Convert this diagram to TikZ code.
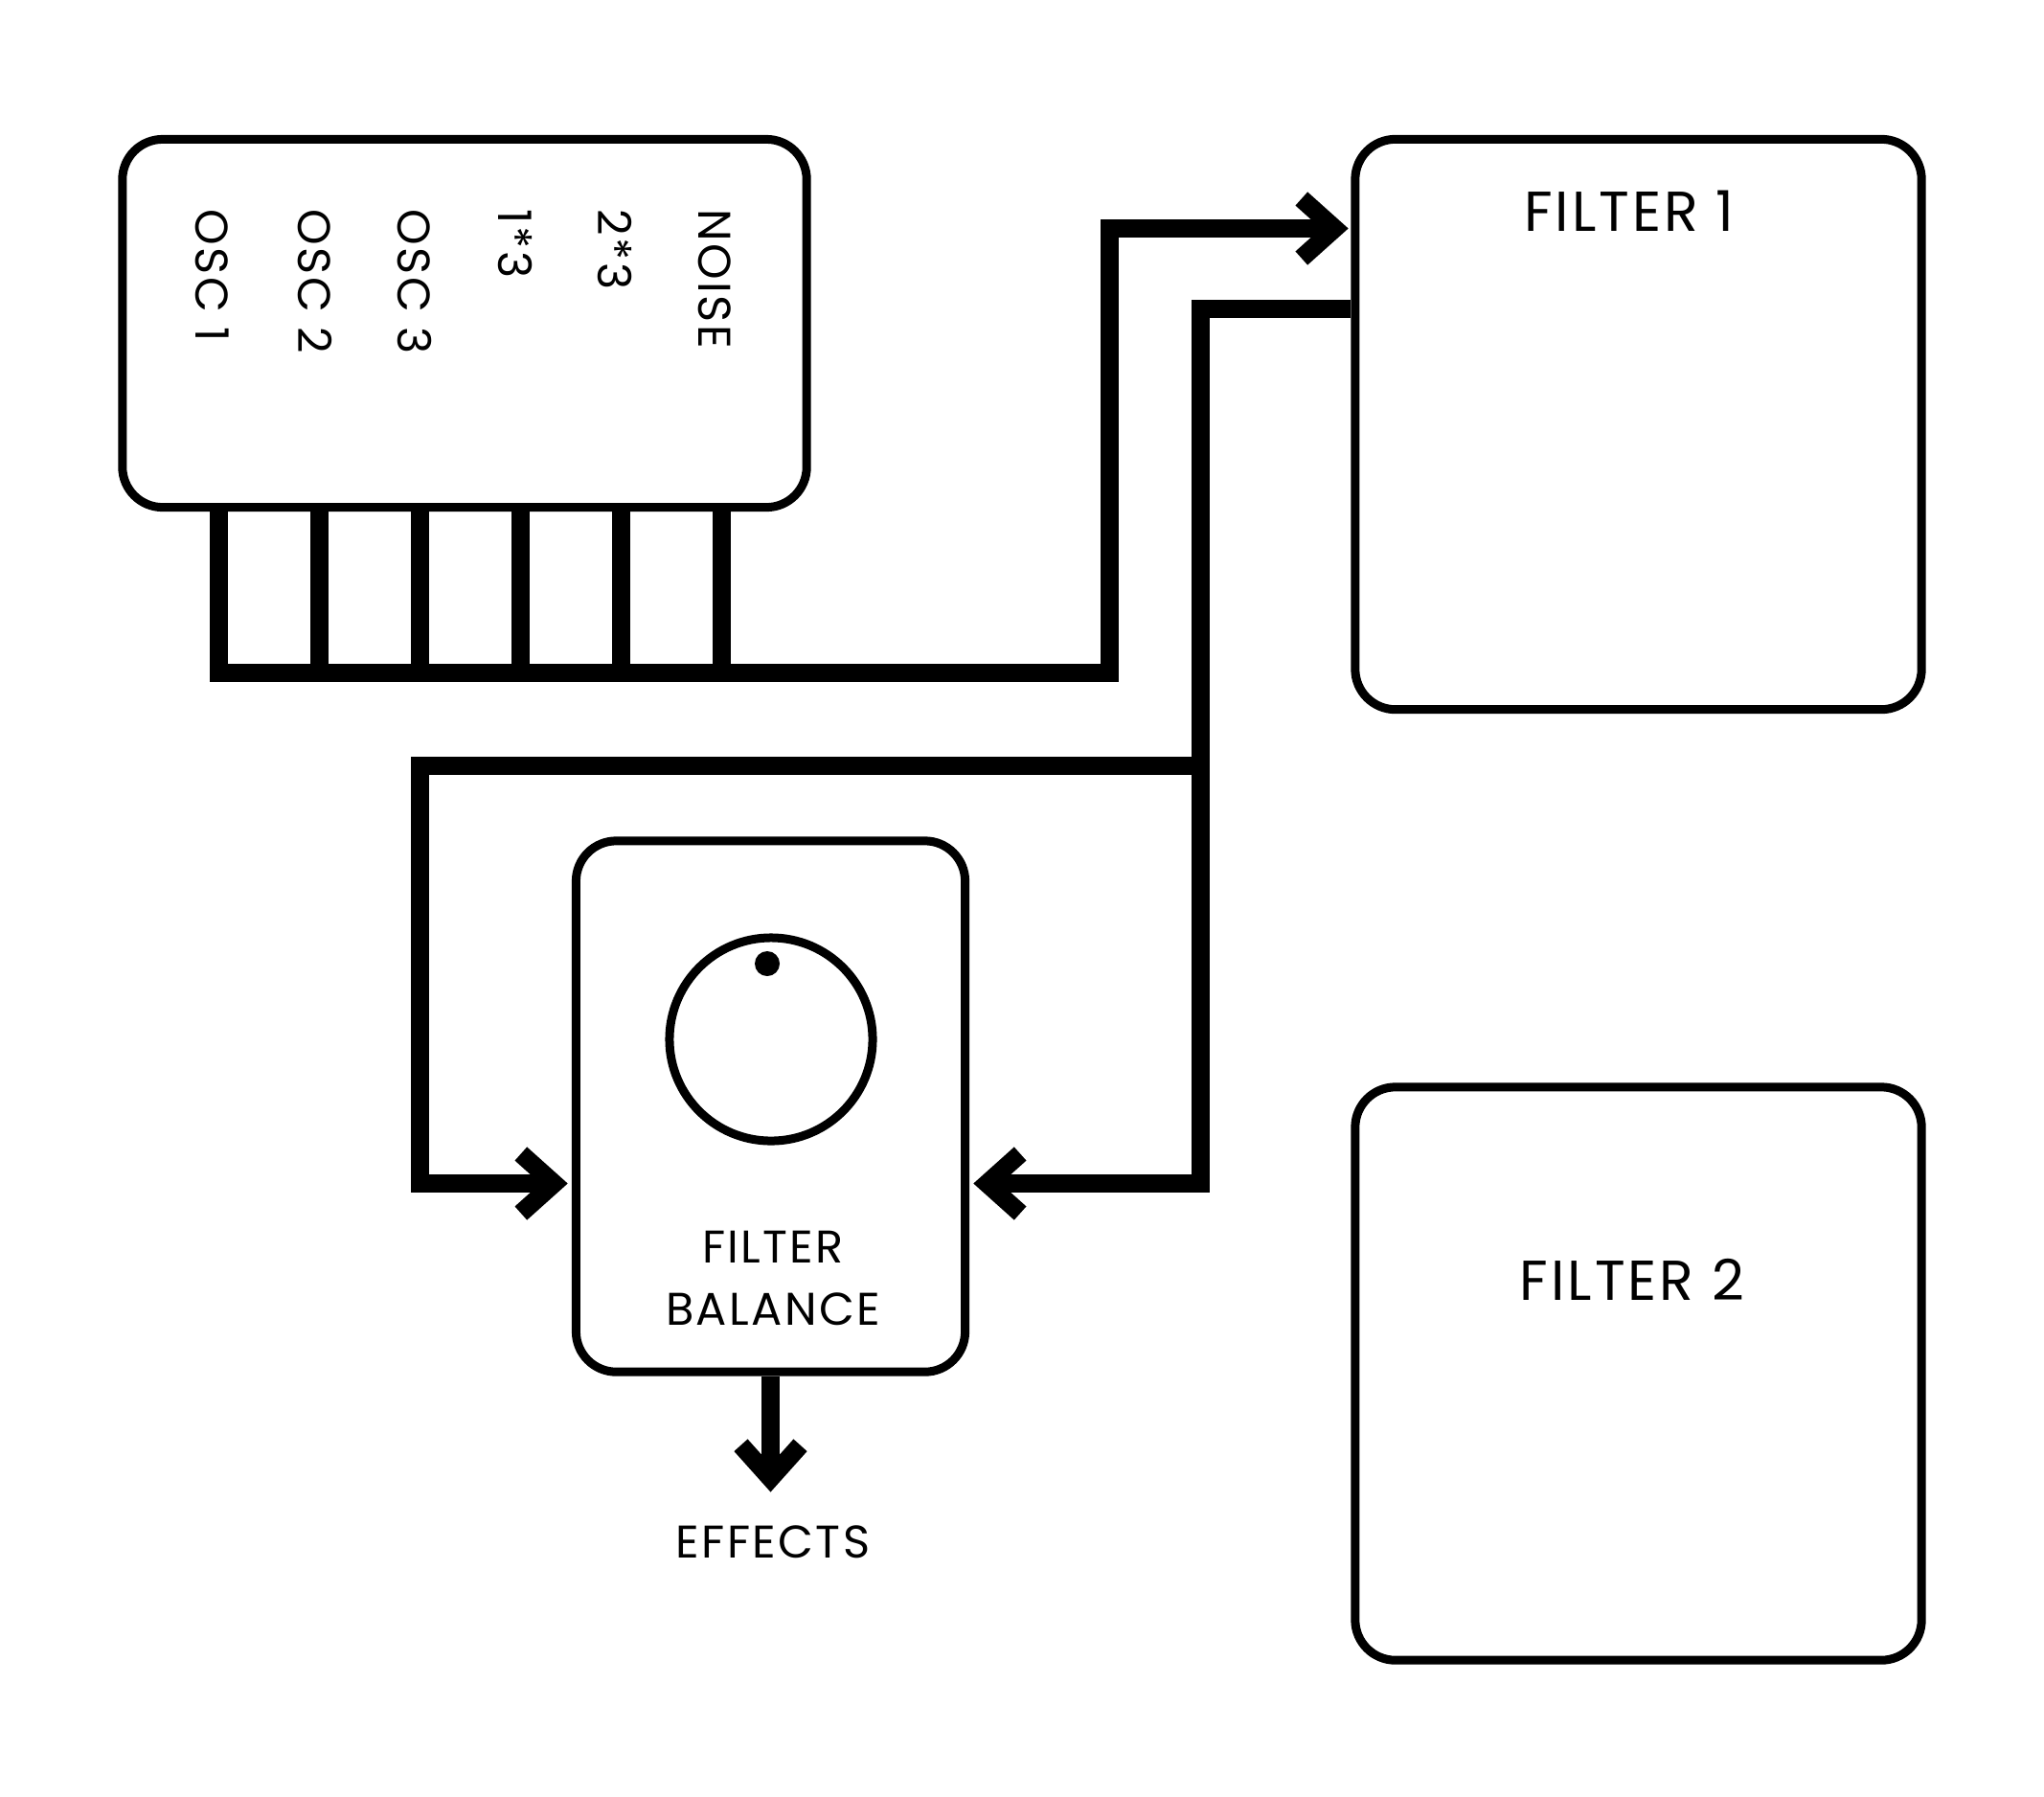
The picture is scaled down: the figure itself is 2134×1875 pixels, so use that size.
\documentclass[tikz,border=0pt]{standalone}
\usepackage{fontspec}
\setmainfont{Poppins}[LetterSpace=5]
\begin{document}
\begin{tikzpicture}[x=0.01cm,y=-0.01cm,
  box/.style={draw=black, line width=0.09cm, rounded corners=0.42cm, inner sep=0pt},
  wire/.style={line width=0.19cm, line join=miter, line cap=butt},
  head/.style={line width=0.19cm, line join=miter, line cap=butt},
  biglbl/.style={font=\fontsize{16.7}{20}\selectfont, text=black, inner sep=0pt},
  lbl/.style={font=\fontsize{13.6}{16}\selectfont, text=black, inner sep=0pt},
  osc/.style={font=\fontsize{13.6}{16}\selectfont, text=black, inner sep=0pt, rotate=-90, anchor=west}]
\useasboundingbox[fill=white] (0,0) rectangle (2134,1875);

% boxes
\node[box, minimum width=7.14cm, minimum height=3.84cm] (src) at (485,337.5) {};
\node[box, minimum width=5.91cm, minimum height=5.95cm] (f1) at (1710.5,443) {};
\node[box, minimum width=5.91cm, minimum height=5.98cm] (f2) at (1710.5,1434) {};
\node[box, minimum width=4.06cm, minimum height=5.54cm] (bal) at (804.5,1155) {};
\node[draw=black, line width=0.09cm, circle, minimum size=2.12cm, inner sep=0pt] (knob) at (805,1085) {};
\node[fill=black, circle, minimum size=0.26cm, inner sep=0pt] (dot) at (801,1006) {};

% labels
\node[osc] (l1) at (222,218) {OSC 1};
\node[osc] (l2) at (328.5,218) {OSC 2};
\node[osc] (l3) at (433,218) {OSC 3};
\node[osc] (l4) at (537.5,218) {1*3};
\node[osc] (l5) at (642,218) {2*3};
\node[osc] (l6) at (746,218) {NOISE};
\node[biglbl] (t1) at (1701,220) {FILTER 1};
\node[biglbl] (t2) at (1704,1336) {FILTER 2};
\node[lbl] (tb1) at (807,1302) {FILTER};
\node[lbl] (tb2) at (807,1367) {BALANCE};
\node[lbl] (tfx) at (807,1610) {EFFECTS};

% coordinates
\coordinate (b1) at (228.5,702.5);
\coordinate (b2) at (333.5,702.5);
\coordinate (b3) at (438.5,702.5);
\coordinate (b4) at (543.5,702.5);
\coordinate (b5) at (648.5,702.5);
\coordinate (b6) at (753.5,702.5);
\coordinate (r1) at (1158.5,702.5);
\coordinate (e1) at ([xshift=-0.035cm]f1.west |- 0,238.5);
\coordinate (s2) at (f1.west |- 0,322.5);
\coordinate (c2) at (1253.5,1235.5);
\coordinate (j2) at (1253.5,799.5);
\coordinate (c3) at (438.5,1235.5);
\coordinate (e2) at ([xshift=0.05cm]bal.east |- c2);
\coordinate (e3) at ([xshift=-0.05cm]bal.west |- c3);
\coordinate (e4) at ([yshift=-1.2cm]bal.south);

% wires
\draw[wire] (src.south -| b1) -- (b1) -- (r1) |- ([xshift=-0.134cm]e1);
\foreach \i in {2,...,6} \draw[wire] (src.south -| b\i) -- ([yshift=-0.05cm]b\i);
\draw[wire] (s2) -| (c2) -- ([xshift=0.134cm]e2);
\draw[wire] (j2) -- (j2 -| c3) |- ([xshift=-0.134cm]e3);
\draw[wire] (bal.south) -- ([yshift=0.134cm]e4);

% heads
\draw[head] ([shift={(-0.48cm,0.31cm)}]e1) -- ([xshift=-0.134cm]e1) -- ([shift={(-0.48cm,-0.31cm)}]e1);
\draw[head] ([shift={(0.48cm,0.31cm)}]e2) -- ([xshift=0.134cm]e2) -- ([shift={(0.48cm,-0.31cm)}]e2);
\draw[head] ([shift={(-0.48cm,0.31cm)}]e3) -- ([xshift=-0.134cm]e3) -- ([shift={(-0.48cm,-0.31cm)}]e3);
\draw[head] ([shift={(-0.31cm,0.48cm)}]e4) -- ([yshift=0.134cm]e4) -- ([shift={(0.31cm,0.48cm)}]e4);
\end{tikzpicture}
\end{document}
